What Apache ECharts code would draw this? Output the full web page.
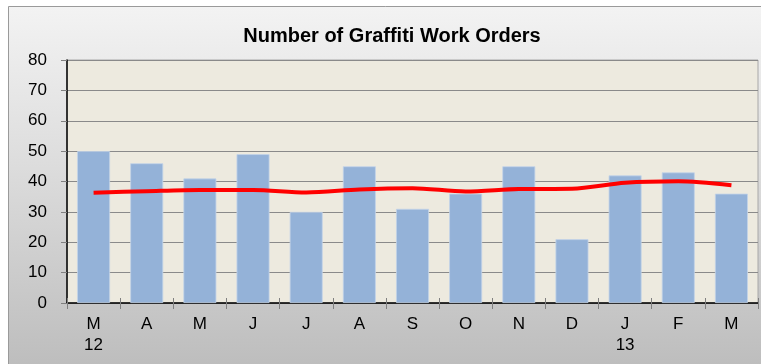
<!DOCTYPE html>
<html>
<head>
<meta charset="utf-8">
<script src="https://cdn.jsdelivr.net/npm/echarts@6/dist/echarts.min.js"></script>
<style>
  html, body { margin: 0; padding: 0; background: #ffffff; }
  #chart { width: 761px; height: 364px; }
</style>
</head>
<body>
<div id="chart"></div>
<script>
// Monthly graffiti work orders, March 2012 through March 2013
const months = ['M\n12', 'A', 'M', 'J', 'J', 'A', 'S', 'O', 'N', 'D', 'J\n13', 'F', 'M'];
const workOrders = [50, 46, 41, 49, 30, 45, 31, 36, 45, 21, 42, 43, 36];
const trend = [36.3, 36.8, 37.2, 37.2, 36.4, 37.4, 37.8, 36.7, 37.5, 37.6, 39.6, 40.1, 38.8];
const yTicks = { min: 0, max: 80, interval: 10 };

const chart = echarts.init(document.getElementById('chart'), null, { renderer: 'canvas' });

const font = 'Liberation Sans, Arial, sans-serif';

chart.setOption({
  animation: false,
  backgroundColor: 'transparent',
  graphic: [{
    type: 'rect',
    z: -10,
    shape: { x: 8.5, y: 6.5, width: 760, height: 360 },
    style: {
      fill: new echarts.graphic.LinearGradient(0, 0, 0, 1, [
        { offset: 0, color: '#f3f3f3' },
        { offset: 0.45, color: '#dcdcdc' },
        { offset: 1, color: '#bdbdbd' }
      ]),
      stroke: '#9a9a9a',
      lineWidth: 1
    }
  }],
  title: {
    text: 'Number of Graffiti Work Orders',
    left: 387,
    textAlign: 'center',
    top: 21,
    textStyle: { fontFamily: font, fontSize: 20, fontWeight: 'bold', color: '#000' }
  },
  grid: {
    left: 67, top: 60, right: 3, bottom: 61,
    show: true,
    backgroundColor: '#edeadf',
    borderColor: '#a8a8a8',
    borderWidth: 1
  },
  xAxis: [{
    type: 'category',
    data: months,
    position: 'bottom',
    boundaryGap: true,
    axisLine: { lineStyle: { color: '#000', width: 1.5 } },
    axisTick: { show: true, alignWithLabel: false, length: 6, lineStyle: { color: '#808080' } },
    axisLabel: {
      fontFamily: font, fontSize: 17, color: '#000',
      margin: 11, lineHeight: 21, interval: 0
    },
    splitLine: { show: false }
  }, {
    // inner half of the crossing category ticks
    type: 'category',
    data: months,
    position: 'bottom',
    boundaryGap: true,
    axisLine: { show: false },
    axisTick: { show: true, inside: true, alignWithLabel: false, length: 5, lineStyle: { color: '#808080' } },
    axisLabel: { show: false },
    splitLine: { show: false }
  }],
  yAxis: {
    type: 'value',
    min: yTicks.min, max: yTicks.max, interval: yTicks.interval,
    axisLine: { show: true, lineStyle: { color: '#000', width: 1.5 } },
    axisTick: { show: true, length: 6, lineStyle: { color: '#808080' } },
    axisLabel: { fontFamily: font, fontSize: 17, color: '#000', margin: 20 },
    splitLine: { show: true, lineStyle: { color: '#8a8a8a', width: 1.2 } }
  },
  series: [
    {
      name: 'Work Orders',
      type: 'bar',
      data: workOrders,
      barCategoryGap: '38%',
      itemStyle: { color: '#94b2d8', borderColor: '#c3d3e8', borderWidth: 0.8 }
    },
    {
      name: 'Trend',
      type: 'line',
      data: trend,
      smooth: 0.3,
      symbol: 'none',
      lineStyle: { color: '#ff0000', width: 4 },
      z: 5
    }
  ]
});
</script>
</body>
</html>
